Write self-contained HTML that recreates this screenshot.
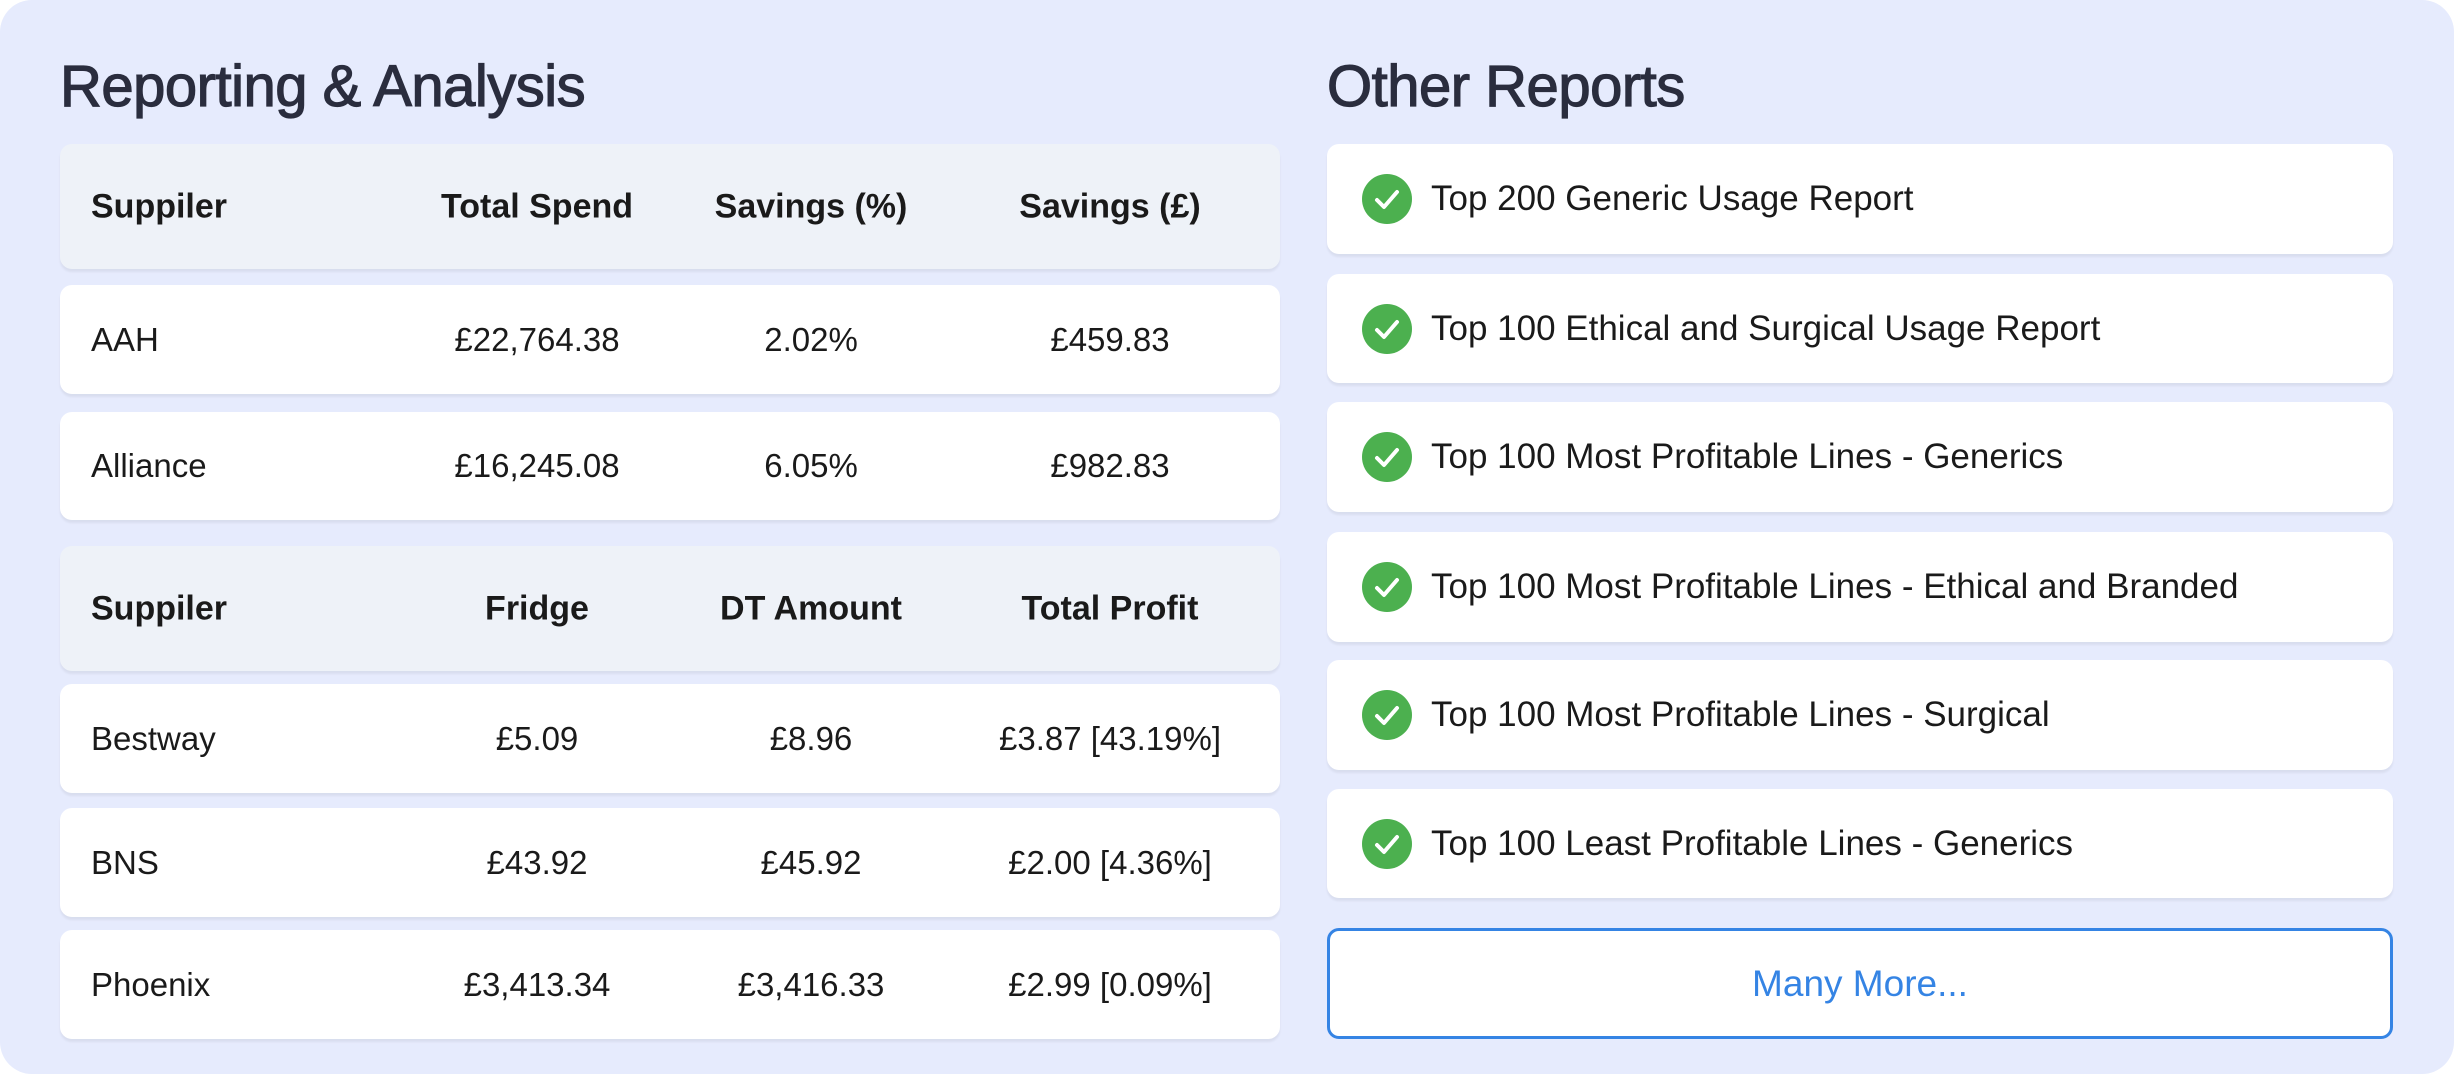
<!DOCTYPE html>
<html><head><style>
*{margin:0;padding:0;box-sizing:border-box}
html,body{width:2454px;height:1074px;background:#fff;overflow:hidden;font-family:"Liberation Sans",sans-serif}
.wrap{position:absolute;left:0;top:0;width:2454px;height:1074px;background:#e6ebfd;border-radius:32px}
.title{position:absolute;top:53px;font-size:58px;color:#2a2d3e;letter-spacing:-0.5px;-webkit-text-stroke:1.2px #2a2d3e}
.row{position:absolute;left:60px;width:1220px;background:#fff;border-radius:12px;box-shadow:0 3px 2px rgba(0,0,0,0.06);font-size:33px;color:#1a1a1a}
.hdr{background:#eef2f8;font-weight:bold;font-size:34px}
.row span{position:absolute;top:50%;transform:translate(-50%,-50%);white-space:nowrap}
.row span.f{left:31px;transform:translateY(-50%)}
.card{position:absolute;left:1327px;width:1066px;background:#fff;border-radius:12px;box-shadow:0 3px 2px rgba(0,0,0,0.06);font-size:35px;color:#1a1a1a}
.card .ic{position:absolute;left:35px;top:50%;margin-top:-25px;width:50px;height:50px;border-radius:50%;background:#4cb04f}
.card .ic svg{position:absolute;left:0;top:0}
.card .t{position:absolute;left:104px;top:50%;transform:translateY(-50%);white-space:nowrap}
.btn{position:absolute;left:1327px;top:928px;width:1066px;height:111px;border:3px solid #3584e4;border-radius:12px;background:#fff;color:#3584e4;font-size:37px;text-align:center;line-height:105px}
</style></head><body>
<div class="wrap">
<div class="title" style="left:60px">Reporting &amp; Analysis</div>
<div class="title" style="left:1327px">Other Reports</div>

<div class="row hdr" style="top:144px;height:125px"><span class="f">Suppiler</span><span style="left:477px">Total Spend</span><span style="left:751px">Savings (%)</span><span style="left:1050px">Savings (£)</span></div>
<div class="row" style="top:285px;height:109px"><span class="f">AAH</span><span style="left:477px">£22,764.38</span><span style="left:751px">2.02%</span><span style="left:1050px">£459.83</span></div>
<div class="row" style="top:412px;height:108px"><span class="f">Alliance</span><span style="left:477px">£16,245.08</span><span style="left:751px">6.05%</span><span style="left:1050px">£982.83</span></div>

<div class="row hdr" style="top:546px;height:125px"><span class="f">Suppiler</span><span style="left:477px">Fridge</span><span style="left:751px">DT Amount</span><span style="left:1050px">Total Profit</span></div>
<div class="row" style="top:684px;height:109px"><span class="f">Bestway</span><span style="left:477px">£5.09</span><span style="left:751px">£8.96</span><span style="left:1050px">£3.87 [43.19%]</span></div>
<div class="row" style="top:808px;height:109px"><span class="f">BNS</span><span style="left:477px">£43.92</span><span style="left:751px">£45.92</span><span style="left:1050px">£2.00 [4.36%]</span></div>
<div class="row" style="top:930px;height:109px"><span class="f">Phoenix</span><span style="left:477px">£3,413.34</span><span style="left:751px">£3,416.33</span><span style="left:1050px">£2.99 [0.09%]</span></div>

<div class="card" style="top:144px;height:110px"><div class="ic"><svg width="50" height="50"><path d="M15 26 L22 33 L35 18" stroke="#fff" stroke-width="4" fill="none" stroke-linecap="round" stroke-linejoin="round"/></svg></div><div class="t">Top 200 Generic Usage Report</div></div>
<div class="card" style="top:274px;height:109px"><div class="ic"><svg width="50" height="50"><path d="M15 26 L22 33 L35 18" stroke="#fff" stroke-width="4" fill="none" stroke-linecap="round" stroke-linejoin="round"/></svg></div><div class="t">Top 100 Ethical and Surgical Usage Report</div></div>
<div class="card" style="top:402px;height:110px"><div class="ic"><svg width="50" height="50"><path d="M15 26 L22 33 L35 18" stroke="#fff" stroke-width="4" fill="none" stroke-linecap="round" stroke-linejoin="round"/></svg></div><div class="t">Top 100 Most Profitable Lines - Generics</div></div>
<div class="card" style="top:532px;height:110px"><div class="ic"><svg width="50" height="50"><path d="M15 26 L22 33 L35 18" stroke="#fff" stroke-width="4" fill="none" stroke-linecap="round" stroke-linejoin="round"/></svg></div><div class="t">Top 100 Most Profitable Lines - Ethical and Branded</div></div>
<div class="card" style="top:660px;height:110px"><div class="ic"><svg width="50" height="50"><path d="M15 26 L22 33 L35 18" stroke="#fff" stroke-width="4" fill="none" stroke-linecap="round" stroke-linejoin="round"/></svg></div><div class="t">Top 100 Most Profitable Lines - Surgical</div></div>
<div class="card" style="top:789px;height:109px"><div class="ic"><svg width="50" height="50"><path d="M15 26 L22 33 L35 18" stroke="#fff" stroke-width="4" fill="none" stroke-linecap="round" stroke-linejoin="round"/></svg></div><div class="t">Top 100 Least Profitable Lines - Generics</div></div>
<div class="btn">Many More...</div>
</div>
</body></html>
